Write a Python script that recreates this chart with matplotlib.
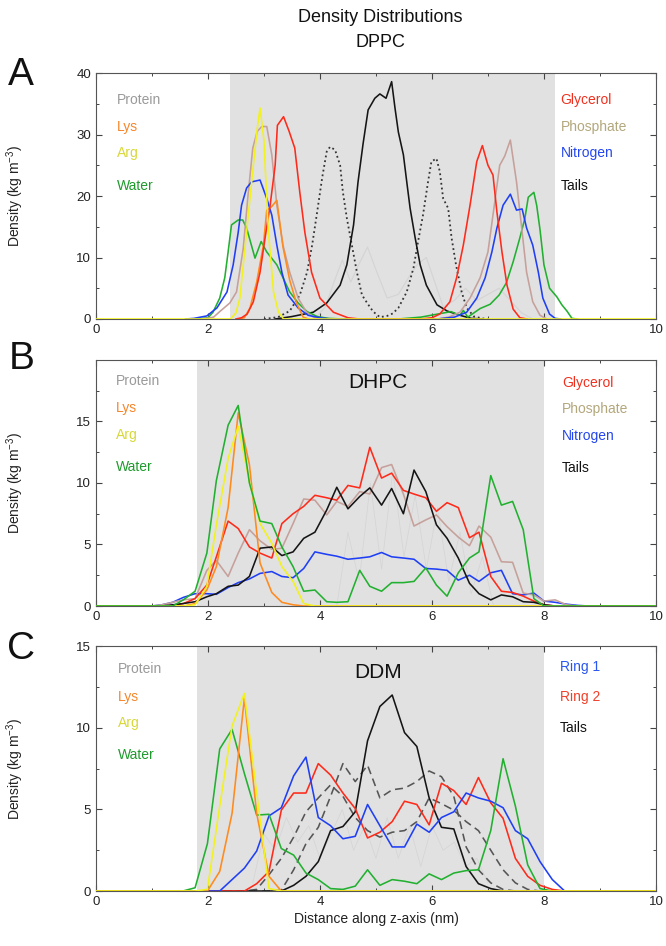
import numpy as np
import matplotlib
matplotlib.use('Agg')
import matplotlib.pyplot as plt
from matplotlib.ticker import MultipleLocator

plt.rcParams['font.family'] = ['Liberation Sans', 'DejaVu Sans']
plt.rcParams['mathtext.fontset'] = 'custom'
plt.rcParams['mathtext.rm'] = 'Liberation Sans'

# colours
RED = '#ff2a1a'
GREEN = '#22b030'
BLUE = '#1f3ff5'
YELLOW = '#f2f21e'
ORANGE = '#ff8a1e'
ROSY = '#c6a09a'
BLACK = '#151515'
FAINT = '#d4d4d4'
DASH = '#555555'

# ---------------- panel A : DPPC ----------------
a_prot_x = [3.9, 4.1, 4.25, 4.4, 4.55, 4.7, 4.85, 5.0, 5.2, 5.4, 5.6, 5.75, 5.9, 6.05, 6.2, 6.4, 6.6, 6.8, 7.0, 7.2, 7.4, 7.6, 7.8]
a_prot_y = [0, 2, 6, 9.6, 6, 9, 11.7, 8, 3.4, 4, 7, 9, 10, 6, 2, 3, 5, 3, 4, 5, 3, 1, 0]
a_arg_x = [0, 2.4, 2.5, 2.57, 2.69, 2.81, 2.88, 2.93, 3.0, 3.02, 3.08, 3.17, 3.26, 3.35, 10]
a_arg_y = [0, 0, 1, 3.4, 14.2, 25, 31, 34.3, 29, 25, 14.2, 4.4, 1.1, 0, 0]
a_lys_x = [2.55, 2.65, 2.75, 2.87, 2.99, 3.05, 3.14, 3.23, 3.34, 3.46, 3.58, 3.7, 3.8]
a_lys_y = [0, 0.2, 1.8, 6.0, 12, 17.7, 18.3, 19.3, 11.7, 6.3, 2.6, 0.3, 0]
a_pho_x = [1.9, 2.1, 2.21, 2.39, 2.51, 2.63, 2.71, 2.80, 2.88, 2.96, 3.05, 3.14, 3.23, 3.34, 3.46, 3.61, 3.76, 3.9, 4.1,
           6.1, 6.3, 6.5, 6.68, 6.86, 7.0, 7.13, 7.21, 7.30, 7.40, 7.51, 7.61, 7.69, 7.8, 7.93, 8.05]
a_pho_y = [0, 0.3, 1.2, 2.6, 4.4, 11.5, 19.6, 27.8, 30.5, 31.3, 31.3, 26.7, 18.5, 12, 7.6, 3.4, 1.1, 0.2, 0,
           0, 0.3, 1.1, 3.4, 6.7, 10.9, 19.6, 25.0, 26.5, 29.1, 22.3, 14.2, 7.6, 2.8, 0.6, 0]
a_gly_x = [2.5, 2.6, 2.7, 2.81, 2.93, 3.02, 3.11, 3.2, 3.24, 3.35, 3.45, 3.55, 3.64, 3.73, 3.85, 4.0, 4.24, 4.5, 4.7,
           5.8, 6.0, 6.14, 6.32, 6.44, 6.56, 6.68, 6.8, 6.90, 7.0, 7.09, 7.16, 7.25, 7.34, 7.45, 7.57, 7.7]
a_gly_y = [0, 0.2, 0.8, 2.8, 7.6, 13.2, 18.5, 25, 31.5, 32.9, 30.5, 27.8, 20.6, 14.1, 7.6, 3.4, 1.1, 0.2, 0,
           0, 0.2, 0.8, 2.8, 6.7, 12, 18.5, 25.6, 28.2, 25.0, 23.4, 17.4, 10.9, 5.5, 1.6, 0.2, 0]
a_nit_x = [1.6, 1.75, 1.98, 2.16, 2.34, 2.45, 2.54, 2.6, 2.69, 2.78, 2.93, 3.05, 3.14, 3.23, 3.32, 3.43, 3.61, 3.79, 4.0, 4.2,
           6.1, 6.4, 6.62, 6.8, 6.95, 7.07, 7.16, 7.27, 7.40, 7.51, 7.61, 7.69, 7.8, 7.9, 7.98, 8.1, 8.2, 8.3]
a_nit_y = [0, 0.1, 0.5, 1.8, 4.4, 8.8, 14.1, 18.5, 21.3, 22.3, 22.6, 19.6, 16.9, 12, 7.6, 3.9, 1.8, 0.6, 0.2, 0,
           0, 0.3, 1.1, 3.4, 6.7, 10.9, 14.8, 18.5, 20.3, 17.7, 17.9, 14.8, 12, 7.6, 3.4, 0.8, 0.1, 0]
a_wat_x = [1.8, 2.0, 2.09, 2.21, 2.3, 2.36, 2.42, 2.54, 2.62, 2.69, 2.84, 2.95, 3.05, 3.23, 3.34, 3.46, 3.61, 3.77, 3.95, 4.15, 4.4,
           5.4, 5.8, 6.1, 6.34, 6.5, 6.56, 6.64, 6.75, 6.86, 7.04, 7.2, 7.33, 7.45, 7.57, 7.66, 7.72, 7.82, 7.87, 7.93, 8.0,
           8.1, 8.23, 8.32, 8.41, 8.5, 8.6]
a_wat_y = [0, 0.2, 1.1, 3.4, 6.7, 10.9, 15.3, 16.1, 16.1, 14.8, 9.9, 12.6, 10.9, 8.8, 6.7, 4.4, 2.6, 1.2, 0.4, 0.1, 0,
           0, 0.3, 0.8, 1.2, 0.6, 1.4, 0.3, 1.0, 1.7, 2.4, 3.9, 5.9, 9.3, 13.2, 16.4, 19.8, 20.6, 18.5, 14.5, 8.8,
           5.0, 3.6, 2.3, 1.3, 0.1, 0]
a_tail_x = [3.2, 3.5, 3.88, 4.12, 4.36, 4.48, 4.6, 4.68, 4.77, 4.86, 4.98, 5.07, 5.18, 5.28, 5.34, 5.4, 5.49, 5.55, 5.61,
            5.7, 5.79, 5.9, 6.09, 6.27, 6.5, 6.7, 6.9]
a_tail_y = [0, 0.4, 1.1, 2.6, 5.5, 8.8, 15.3, 22.3, 28.5, 34.0, 35.9, 36.6, 35.9, 38.6, 34.3, 30.4, 26.7, 22.3, 18.0,
            13.2, 8.8, 5.5, 2.3, 1.3, 0.6, 0.1, 0]
a_dot_x = [3.0, 3.25, 3.46, 3.64, 3.77, 3.86, 3.95, 4.04, 4.12, 4.18, 4.27, 4.36, 4.41, 4.48, 4.57, 4.66, 4.75, 4.85, 4.95,
           5.07, 5.2, 5.3, 5.4, 5.55, 5.67, 5.75, 5.84, 5.93, 5.99, 6.08, 6.14, 6.2, 6.29, 6.35, 6.43, 6.53, 6.62, 6.75, 6.9, 7.0]
a_dot_y = [0, 0.3, 1.3, 3.9, 7.6, 12, 17.4, 23, 27.2, 28.0, 27.5, 25, 20.6, 16.4, 12, 7.6, 3.9, 2.5, 1.2,
           0.3, 0.5, 0.9, 1.8, 4.4, 8.3, 12.5, 16.9, 22.3, 25.6, 26.1, 24, 19.6, 18, 13.2, 8.8, 4.4, 1.8, 0.4, 0.1, 0]

# ---------------- panel B : DHPC ----------------
b_x = [0, 1.0, 1.18, 1.37, 1.56, 1.77, 1.98, 2.15, 2.36, 2.54, 2.74, 2.93, 3.14, 3.32, 3.52, 3.71, 3.91, 4.12, 4.30, 4.50,
       4.71, 4.89, 5.10, 5.28, 5.49, 5.68, 5.89, 6.08, 6.27, 6.47, 6.67, 6.84, 7.05, 7.24, 7.44, 7.63, 7.82, 8.00,
       8.2, 8.4, 8.6, 8.8, 10]
b_wat = [0, 0, 0, 0, 0.5, 1.2, 4.3, 10.2, 14.7, 16.3, 10.0, 6.9, 6.7, 4.8, 3.2, 1.2, 1.3, 0.35, 0.3, 0.35,
         2.9, 1.6, 1.2, 1.9, 1.9, 2.0, 3.1, 1.7, 0.8, 2.7, 3.9, 4.4, 10.6, 8.2, 8.5, 6.2, 0.6, 0,
         0, 0, 0, 0, 0]
b_gly = [0, 0, 0, 0.05, 0.2, 0.6, 1.7, 4.0, 6.9, 6.3, 4.8, 4.3, 3.9, 6.7, 7.5, 8.1, 9.0, 8.8, 8.6, 9.8,
         9.6, 12.9, 10.4, 10.8, 9.4, 9.1, 8.8, 7.7, 8.4, 8.0, 5.55, 6.0, 2.4, 1.2, 1.1, 0.8, 0.4, 0.1,
         0, 0, 0, 0, 0]
b_pho = [0, 0, 0.1, 0.3, 0.5, 0.6, 2.9, 3.7, 2.4, 4.3, 6.2, 5.3, 4.6, 4.7, 6.7, 8.7, 8.6, 7.4, 8.5, 8.1,
         9.3, 9.1, 11.25, 11.5, 9.1, 6.5, 7.0, 7.4, 6.45, 5.6, 4.9, 6.5, 5.6, 3.6, 3.55, 1.05, 0.9, 0.4,
         0.5, 0.1, 0, 0, 0]
b_tail = [0, 0, 0, 0.1, 0.2, 0.35, 0.75, 1.0, 1.6, 1.7, 2.4, 4.7, 4.8, 4.1, 4.4, 5.5, 6.0, 7.8, 9.65, 7.9,
          8.9, 9.6, 8.2, 9.55, 7.5, 11.05, 9.3, 6.6, 5.5, 3.9, 1.85, 1.0, 0.5, 0.9, 0.75, 0.35, 0.3, 0.1,
          0, 0, 0, 0, 0]
b_nit = [0, 0, 0.1, 0.3, 0.7, 1.0, 1.0, 0.95, 1.5, 1.9, 2.2, 2.65, 2.8, 2.4, 2.3, 3.05, 4.4, 4.2, 4.05, 3.8,
         3.9, 4.0, 4.35, 4.0, 3.9, 3.8, 3.05, 3.0, 2.9, 2.1, 2.5, 2.0, 2.7, 2.9, 1.0, 0.9, 1.05, 0.4,
         0.3, 0.15, 0.05, 0, 0]
b_lys = [0, 0, 0, 0, 0, 0.2, 1.3, 3.2, 8.0, 15.7, 11.5, 3.5, 1.1, 0.3, 0.1, 0, 0, 0, 0, 0,
         0, 0, 0, 0, 0, 0, 0, 0, 0, 0, 0, 0, 0, 0, 0, 0, 0, 0,
         0, 0, 0, 0, 0]
b_arg = [0, 0, 0, 0, 0, 0.1, 1.6, 6.6, 12.0, 14.6, 10.1, 6.7, 5.1, 3.2, 2.0, 0.2, 0, 0, 0, 0,
         0, 0, 0, 0, 0, 0, 0, 0, 0, 0, 0, 0, 0, 0, 0, 0, 0, 0,
         0, 0, 0, 0, 0]
b_prot_x = [4.3, 4.5, 4.7, 4.9, 5.1, 5.3, 5.5, 5.7, 5.9, 6.1, 6.3, 6.5, 6.7, 6.9, 7.1]
b_prot_y = [0, 6, 2, 10, 3, 11, 4, 9, 3, 8, 2, 6, 1, 4, 0]

# ---------------- panel C : DDM ----------------
c_x = [0, 1.33, 1.55, 1.77, 1.99, 2.21, 2.43, 2.65, 2.87, 3.09, 3.31, 3.53, 3.75, 3.97, 4.19, 4.41, 4.63, 4.85,
       5.07, 5.29, 5.51, 5.73, 5.95, 6.17, 6.39, 6.61, 6.83, 7.05, 7.27, 7.49, 7.71, 7.93, 8.15, 8.37, 8.59, 10]
c_wat = [0, 0, 0, 0.2, 2.9, 8.7, 9.9, 7.2, 4.65, 4.7, 2.6, 2.2, 1.1, 0.7, 0.15, 0.1, 0.3, 1.3,
         0.35, 0.7, 0.6, 0.45, 1.05, 0.7, 1.1, 1.25, 1.3, 3.7, 8.1, 5.2, 1.6, 0.15, 0, 0, 0, 0]
c_arg = [0, 0, 0, 0, 0.1, 5.2, 10.1, 12.1, 6.0, 0.15, 0, 0, 0, 0, 0, 0, 0, 0,
         0, 0, 0, 0, 0, 0, 0, 0, 0, 0, 0, 0, 0, 0, 0, 0, 0, 0]
c_lys = [0, 0, 0, 0, 0, 1.2, 4.75, 11.8, 4.75, 0.9, 0, 0, 0, 0, 0, 0, 0, 0,
         0, 0, 0, 0, 0, 0, 0, 0, 0, 0, 0, 0, 0, 0, 0, 0, 0, 0]
c_ring1 = [0, 0, 0, 0, 0, 0, 0.7, 1.4, 2.45, 4.6, 5.1, 7.05, 8.2, 4.5, 4.0, 3.2, 3.35, 5.3,
           4.0, 2.7, 2.7, 4.1, 3.6, 4.5, 4.85, 6.0, 5.7, 5.5, 5.1, 3.7, 3.2, 1.8, 0.7, 0, 0, 0]
c_ring2 = [0, 0, 0, 0, 0, 0, 0, 0, 0.45, 1.2, 4.95, 6.0, 6.0, 7.8, 7.1, 6.0, 5.05, 3.25,
           3.6, 4.25, 5.5, 5.3, 4.05, 6.6, 6.15, 5.3, 6.95, 5.4, 4.45, 2.0, 0.9, 0.35, 0.1, 0, 0, 0]
c_tail = [0, 0, 0, 0, 0, 0, 0, 0, 0, 0, 0, 0.35, 0.9, 1.8, 3.7, 3.95, 4.85, 9.2,
          11.3, 12.0, 9.7, 8.85, 5.7, 3.9, 3.8, 1.5, 0.45, 0.15, 0, 0, 0, 0, 0, 0, 0, 0]
c_dash1 = [0, 0, 0, 0, 0, 0, 0, 0, 0.1, 1.0, 2.0, 3.3, 4.85, 5.7, 6.5, 5.8, 4.5, 3.7,
           3.3, 3.6, 3.7, 4.25, 5.7, 5.35, 4.95, 4.25, 3.7, 2.5, 1.3, 0.5, 0.1, 0, 0, 0, 0, 0]
c_dash2 = [0, 0, 0, 0, 0, 0, 0, 0, 0, 0, 0.05, 1.3, 2.9, 3.9, 5.8, 7.8, 6.7, 7.7,
           5.7, 6.2, 6.3, 6.7, 7.35, 7.0, 5.8, 2.7, 1.3, 0.5, 0.1, 0, 0, 0, 0, 0, 0, 0]
c_prot_x = [2.8, 3.0, 3.2, 3.4, 3.6, 3.8, 4.0, 4.2, 4.4, 4.6, 4.8, 5.0, 5.2, 5.4, 5.6, 5.8, 6.0, 6.2, 6.4, 6.6, 6.8, 7.0]
c_prot_y = [0.5, 3.5, 2.5, 4.5, 3.0, 4.0, 2.0, 3.5, 5.0, 2.5, 4.0, 2.0, 4.5, 2.0, 4.0, 1.5, 4.0, 2.5, 3.0, 1.5, 2.0, 0.5]

LW = 1.15

fig = plt.figure(figsize=(6.66, 9.46), dpi=100)
L, W = 0.1441, 0.8408
axA = fig.add_axes([L, 0.6628, W, 0.2600])
axB = fig.add_axes([L, 0.3594, W, 0.2601])
axC = fig.add_axes([L, 0.0581, W, 0.2590])


def style(ax, ymax, ymajor, yticks, shade):
    ax.axvspan(shade[0], shade[1], color='#e1e1e1', zorder=0, lw=0)
    ax.set_xlim(0, 10)
    ax.set_ylim(0, ymax)
    ax.xaxis.set_major_locator(MultipleLocator(2))
    ax.xaxis.set_minor_locator(MultipleLocator(1))
    ax.yaxis.set_minor_locator(MultipleLocator(ymajor / 2))
    ax.set_yticks(yticks)
    ax.tick_params(which='both', direction='in', top=True, right=True, colors='#444444',
                   labelcolor='#222222', labelsize=9.5)
    ax.tick_params(which='major', length=4, width=0.8)
    ax.tick_params(which='minor', length=2.5, width=0.7)
    for s in ax.spines.values():
        s.set_color('#555555')
        s.set_linewidth(0.8)
    ax.set_ylabel('Density (kg m$^{-3}$)', fontsize=10, color='#222222')
    ax.yaxis.set_label_coords(-0.125, 0.5)


def label_col(ax, x, ys, names, colors, ha='left'):
    for y, n, c in zip(ys, names, colors):
        ax.text(x, y, n, color=c, fontsize=10, ha=ha, va='center')


# panel A
style(axA, 40, 10, [0, 10, 20, 30, 40], (2.4, 8.2))
axA.plot(a_prot_x, a_prot_y, color=FAINT, lw=0.8, zorder=1)
axA.plot(a_dot_x, a_dot_y, color='#333333', lw=1.3, ls=':', zorder=2)
axA.plot(a_tail_x, a_tail_y, color=BLACK, lw=LW, zorder=2)
axA.plot(a_wat_x, a_wat_y, color=GREEN, lw=LW, zorder=3)
axA.plot(a_pho_x, a_pho_y, color=ROSY, lw=LW, zorder=3)
axA.plot(a_nit_x, a_nit_y, color=BLUE, lw=LW, zorder=3)
axA.plot(a_lys_x, a_lys_y, color=ORANGE, lw=LW, zorder=3)
axA.plot(a_gly_x, a_gly_y, color=RED, lw=LW, zorder=3)
axA.plot(a_arg_x, a_arg_y, color=YELLOW, lw=LW, zorder=4)
label_col(axA, 0.37, [35.6, 31.2, 27.0, 21.6], ['Protein', 'Lys', 'Arg', 'Water'],
          ['#9a9a9a', '#f5862a', '#d8d83a', '#1e9a2c'])
label_col(axA, 8.3, [35.6, 31.2, 27.0, 21.6], ['Glycerol', 'Phosphate', 'Nitrogen', 'Tails'],
          ['#f0301e', '#b3a77c', '#2446f0', '#111111'])

# panel B
style(axB, 20, 5, [0, 5, 10, 15], (1.8, 8.0))
axB.plot(b_prot_x, b_prot_y, color=FAINT, lw=0.5, zorder=1)
axB.plot(b_x, b_nit, color=BLUE, lw=LW, zorder=3)
axB.plot(b_x, b_pho, color=ROSY, lw=LW, zorder=3)
axB.plot(b_x, b_gly, color=RED, lw=LW, zorder=3)
axB.plot(b_x, b_tail, color=BLACK, lw=LW, zorder=3)
axB.plot(b_x, b_lys, color=ORANGE, lw=LW, zorder=3)
axB.plot(b_x, b_arg, color=YELLOW, lw=LW, zorder=3)
axB.plot(b_x, b_wat, color=GREEN, lw=LW, zorder=4)
axB.text(5.03, 18.2, 'DHPC', fontsize=15, ha='center', va='center', color='#111111')
label_col(axB, 0.36, [18.3, 16.1, 13.9, 11.3], ['Protein', 'Lys', 'Arg', 'Water'],
          ['#9a9a9a', '#f5862a', '#d8d83a', '#1e9a2c'])
label_col(axB, 8.32, [18.1, 16.0, 13.8, 11.2], ['Glycerol', 'Phosphate', 'Nitrogen', 'Tails'],
          ['#f0301e', '#b3a77c', '#2446f0', '#111111'])

# panel C
style(axC, 15, 5, [0, 5, 10, 15], (1.8, 8.0))
axC.plot(c_prot_x, c_prot_y, color=FAINT, lw=0.5, zorder=1)
axC.plot(c_x, c_dash1, color=DASH, lw=LW, ls=(0, (5, 3)), zorder=2)
axC.plot(c_x, c_dash2, color=DASH, lw=LW, ls=(0, (5, 3)), zorder=2)
axC.plot(c_x, c_tail, color=BLACK, lw=LW, zorder=3)
axC.plot(c_x, c_ring2, color=RED, lw=LW, zorder=3)
axC.plot(c_x, c_ring1, color=BLUE, lw=LW, zorder=3)
axC.plot(c_x, c_wat, color=GREEN, lw=LW, zorder=3)
axC.plot(c_x, c_lys, color=ORANGE, lw=LW, zorder=3)
axC.plot(c_x, c_arg, color=YELLOW, lw=LW, zorder=4)
axC.text(5.04, 13.4, 'DDM', fontsize=15, ha='center', va='center', color='#111111')
label_col(axC, 0.39, [13.6, 11.9, 10.3, 8.3], ['Protein', 'Lys', 'Arg', 'Water'],
          ['#9a9a9a', '#f5862a', '#d8d83a', '#1e9a2c'])
label_col(axC, 8.29, [13.7, 11.9, 10.0], ['Ring 1', 'Ring 2', 'Tails'],
          ['#2a56f0', '#f0402a', '#111111'])
axC.set_xlabel('Distance along z-axis (nm)', fontsize=10, color='#222222', labelpad=3)

# titles and panel letters
fig.text(0.571, 0.981, 'Density Distributions', fontsize=13, ha='center', va='center', color='#111111')
fig.text(0.571, 0.955, 'DPPC', fontsize=13, ha='center', va='center', color='#111111')
for lab, yy in [('A', 0.921), ('B', 0.621), ('C', 0.314)]:
    fig.text(0.032, yy, lab, fontsize=28, ha='center', va='center', color='#111111')

fig.savefig('out.png', dpi=100)
